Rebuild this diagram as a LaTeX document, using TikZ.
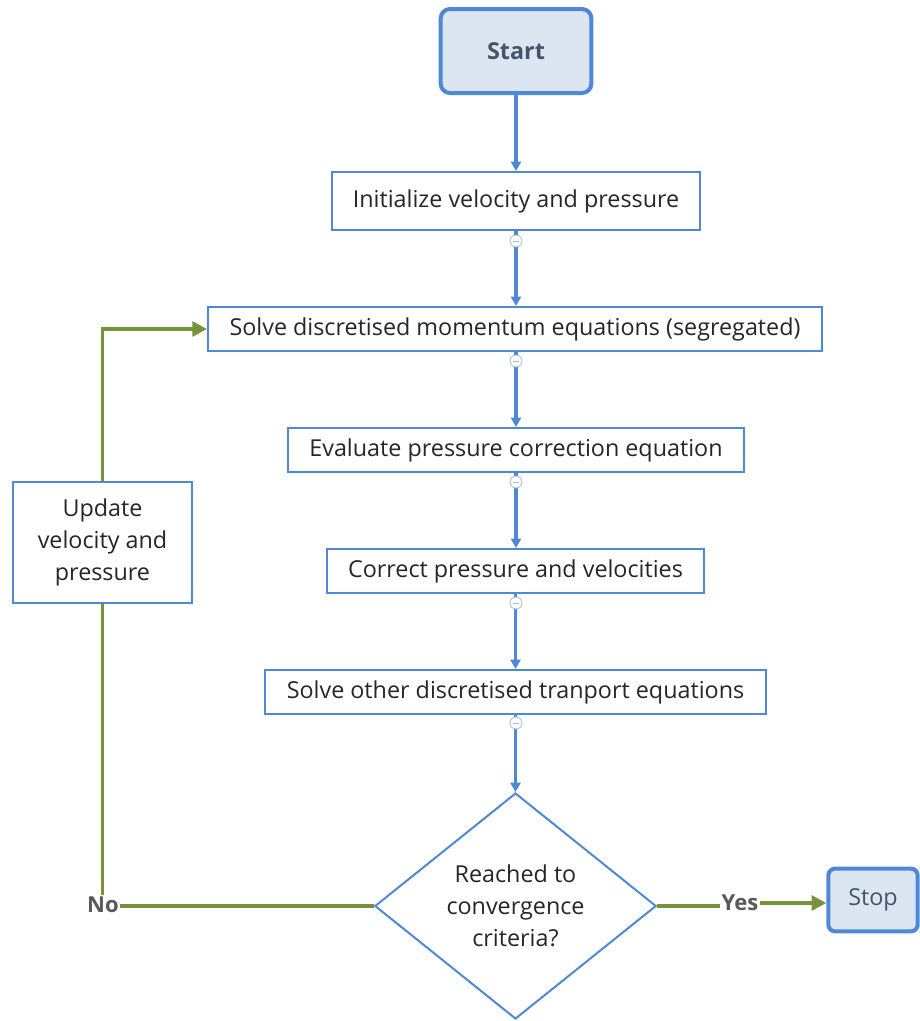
\documentclass[tikz,border=0pt]{standalone}
\usepackage{fontspec}
\setmainfont{Open Sans}
\usetikzlibrary{arrows.meta,shapes.geometric}
\definecolor{boxblue}{HTML}{4F88D4}
\definecolor{fillblue}{HTML}{DCE6F2}
\definecolor{loopgreen}{HTML}{76923C}
\definecolor{txt}{HTML}{262626}
\definecolor{termtxt}{HTML}{44546A}
\definecolor{lbl}{HTML}{595959}
\definecolor{markcol}{HTML}{A6BCDB}
\begin{document}
\begin{tikzpicture}[x=0.75pt,y=-0.75pt,
  font=\fontsize{17.5}{24}\selectfont,
  stepbox/.style={draw=boxblue,line width=1.5pt,fill=white,text=txt,inner sep=0pt,
    minimum height=33pt,anchor=center},
  term/.style={draw=boxblue,line width=3pt,fill=fillblue,rounded corners=7pt,text=termtxt,
    inner sep=0pt},
  flow/.style={draw=boxblue,line width=2.5pt,-{Triangle[length=7pt,width=7.5pt]}},
  loop/.style={draw=loopgreen,line width=2.8pt},
  looparrow/.style={loop,-{Triangle[length=11pt,width=11pt]}},
  collapse/.style={circle,draw=markcol,fill=white,line width=0.6pt,minimum size=9pt,inner sep=0pt,
    path picture={\draw[markcol,line width=0.6pt] ([xshift=-2.3pt]path picture bounding box.center)
      -- ([xshift=2.3pt]path picture bounding box.center);}},
  lab/.style={text=lbl,font=\fontsize{16.5}{20}\selectfont\bfseries,inner sep=1pt}]
\useasboundingbox (0,0) rectangle (920,1021);

% terminals
\node[term,minimum width=113pt,minimum height=63pt,font=\fontsize{17.5}{21}\selectfont\bfseries]
  (start) at (516,51) {Start};
\node[term,minimum width=67pt,minimum height=47pt,rounded corners=5pt] (stop) at (873,900) {Stop};

% process steps
\node[stepbox,minimum width=276pt,minimum height=43.5pt] (init) at (516,201) {Initialize velocity and pressure};
\node[stepbox,minimum width=460.5pt] (mom) at (515,329) {Solve discretised momentum equations (segregated)};
\node[stepbox,minimum width=342pt] (pc) at (516,450) {Evaluate pressure correction equation};
\node[stepbox,minimum width=282.75pt] (corr) at (515.5,571) {Correct pressure and velocities};
\node[stepbox,minimum width=375.75pt] (trans) at (515.5,692) {Solve other discretised tranport equations};
\node[stepbox,minimum width=134.25pt,minimum height=90.75pt,align=center] (upd) at (102.5,542.5)
  {Update\\velocity and\\pressure};

% decision
\node[diamond,draw=boxblue,line width=1.5pt,fill=white,text=txt,aspect=1.25,
  minimum width=211pt,minimum height=169.5pt,inner sep=0pt,align=center] (conv) at (515.5,906)
  {Reached to\\convergence\\criteria?};

% labels on the branches
\node[lab] (no) at (103,905) {No};
\node[lab] (yes) at (740,903) {Yes};

% main flow
\draw[flow] (start.south) -- (init.north);
\draw[flow] (init.south) -- (mom.north -| init.south);
\draw[flow] (mom.south -| pc.north) -- (pc.north);
\draw[flow] (pc.south) -- (corr.north -| pc.south);
\draw[flow] (corr.south -| trans.north) -- (trans.north);
\draw[flow] (trans.south -| conv.north) -- (conv.north);

% convergence branches
\draw[loop] (conv.west) -- (conv.west -| no.east);
\draw[loop] (upd.south) -- (upd.south |- no.north);
\draw[looparrow] (upd.north) |- (mom.west);
\draw[loop] (conv.east) -- (conv.east -| yes.west);
\draw[looparrow] (yes.east) -- (yes.east -| stop.west);

% collapse markers below the steps
\node[collapse] (m1) at (516,241) {};
\node[collapse] (m2) at (516,361) {};
\node[collapse] (m3) at (516,482) {};
\node[collapse] (m4) at (516,603) {};
\node[collapse] (m5) at (516,723) {};
\end{tikzpicture}
\end{document}
